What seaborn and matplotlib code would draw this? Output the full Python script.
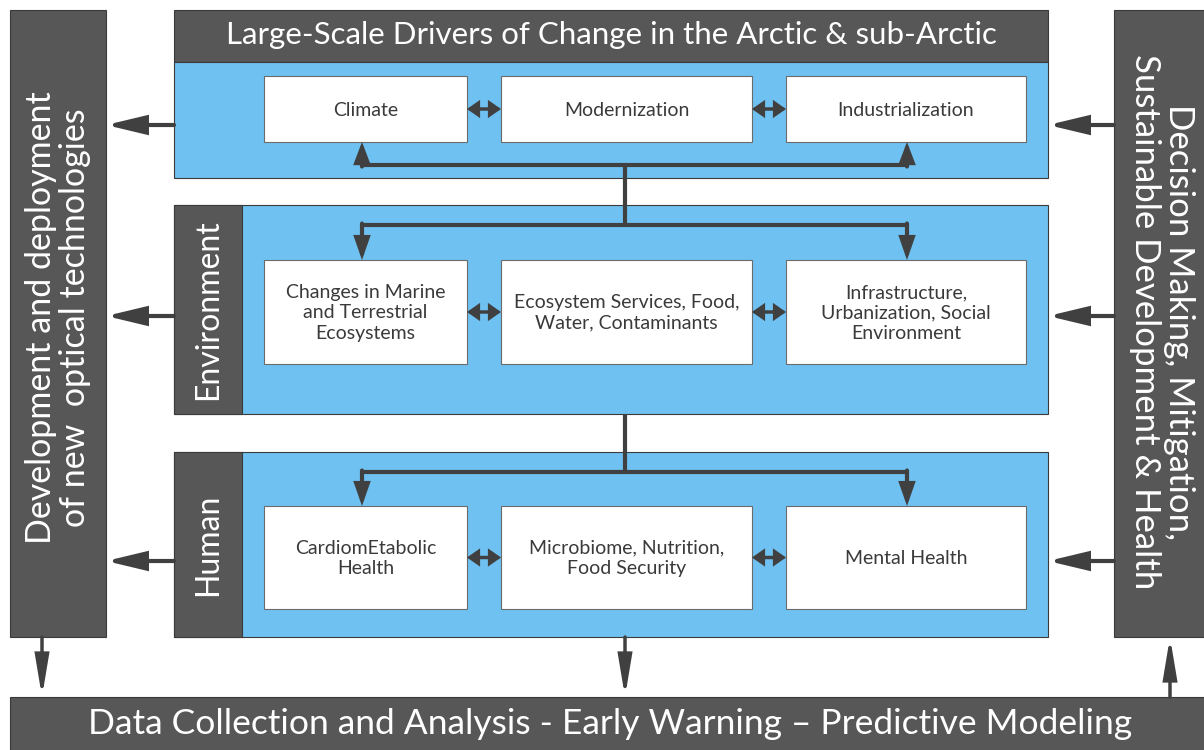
import matplotlib.pyplot as plt
import seaborn as sns
from matplotlib.patches import Rectangle, FancyArrowPatch

sns.set_theme(style="white")
plt.rcParams['font.family'] = ['Lato', 'DejaVu Sans']

DARK = '#575757'
BLUE = '#6FC1F1'
INK = '#404040'
TEXT = '#3a3a3a'

header_title = "Large-Scale Drivers of Change in the Arctic & sub-Arctic"
layer_titles = ["Environment", "Human"]
driver_boxes = ["Climate", "Modernization", "Industrialization"]
env_boxes = ["Changes in Marine\nand Terrestrial\nEcosystems",
             "Ecosystem Services, Food,\nWater, Contaminants",
             "Infrastructure,\nUrbanization, Social\nEnvironment"]
human_boxes = ["CardiomEtabolic\nHealth",
               "Microbiome, Nutrition,\nFood Security",
               "Mental Health"]
left_label = "Development and deployment\nof new  optical technologies"
right_label = "Decision Making, Mitigation,\nSustainable Development & Health"
bottom_label = "Data Collection and Analysis - Early Warning \u2013 Predictive Modeling"

fig = plt.figure(figsize=(12.04, 7.5), dpi=100)
ax = fig.add_axes([0, 0, 1, 1])
ax.set_xlim(0, 1204)
ax.set_ylim(750, 0)
ax.axis('off')


def rect(x0, y0, x1, y1, fc, ec='#3a3a3a', lw=0.8, z=1):
    ax.add_patch(Rectangle((x0, y0), x1 - x0, y1 - y0, facecolor=fc,
                           edgecolor=ec, linewidth=lw, zorder=z))


def arrow(p0, p1, style='-|>', hl=2.3, hw=0.55, lw=3.0):
    a = FancyArrowPatch(p0, p1, arrowstyle=f'{style},head_length={hl},head_width={hw}',
                        mutation_scale=10, linewidth=lw, color=INK,
                        shrinkA=0, shrinkB=0, zorder=5, joinstyle='miter')
    ax.add_patch(a)


def line(xs, ys, lw=3.0):
    ax.plot(xs, ys, color=INK, lw=lw, solid_joinstyle='miter',
            solid_capstyle='butt', zorder=4)


# side and bottom bars
rect(10, 10, 106, 637, DARK)
ax.text(58, 318, left_label, rotation=90, ha='center', va='center',
        color='white', fontsize=24.5, linespacing=1.1)
rect(1114, 10, 1206, 637, DARK)
ax.text(1162, 322, right_label, rotation=-90, ha='center', va='center',
        color='white', fontsize=25, linespacing=1.05)
rect(10, 697, 1206, 752, DARK)
ax.text(610, 724, bottom_label, ha='center', va='center',
        color='white', fontsize=25.5)

# top panel
rect(174, 10, 1048, 62, DARK)
ax.text(611, 35, header_title, ha='center', va='center', color='white', fontsize=22.5)
rect(174, 62, 1048, 178, BLUE)

# environment and human panels
panels = [(205, 414), (452, 637)]
for (y0, y1), title in zip(panels, layer_titles):
    rect(174, y0, 1048, y1, BLUE)
    rect(174, y0, 242, y1, DARK)
    ax.text(208, (y0 + y1) / 2, title, rotation=90, ha='center', va='center',
            color='white', fontsize=23)

box_x = [(264, 467), (501, 752), (786, 1026)]
rows = [(76, 142, driver_boxes), (260, 364, env_boxes), (506, 609, human_boxes)]
for y0, y1, labels in rows:
    for (x0, x1), lab in zip(box_x, labels):
        rect(x0, y0, x1, y1, 'white', ec='#6b6b6b', lw=0.8, z=2)
        ax.text((x0 + x1) / 2, (y0 + y1) / 2 + 1, lab, ha='center', va='center',
                color=TEXT, fontsize=14, linespacing=1.25, zorder=3)
    ym = (y0 + y1) / 2
    for i in range(2):
        arrow((box_x[i][1], ym), (box_x[i + 1][0], ym), style='<|-|>',
              hl=0.6, hw=0.42, lw=2.5)

# feedback inside top panel
line([362, 907], [165, 165])
arrow((362, 166.5), (362, 142), hl=1.1, hw=0.42, lw=3)
arrow((907, 166.5), (907, 142), hl=1.1, hw=0.42, lw=3)

# flow down to environment
line([625, 625], [165, 225])
line([362, 907], [225, 225])
arrow((362, 223.5), (362, 260), hl=1.2, hw=0.42, lw=3)
arrow((907, 223.5), (907, 260), hl=1.2, hw=0.42, lw=3)

# flow down to human
line([625, 625], [414, 472])
line([362, 907], [472, 472])
arrow((362, 470.5), (362, 506), hl=1.2, hw=0.42, lw=3)
arrow((907, 470.5), (907, 506), hl=1.2, hw=0.42, lw=3)

# panel <-> side bars
for y in [125, 316, 561]:
    arrow((174, y), (106, y))
    arrow((1114, y), (1048, y))

# bottom arrows
arrow((42, 637), (42, 697), hl=2.4, hw=0.4, lw=2.5)
arrow((625, 637), (625, 697), hl=2.4, hw=0.4, lw=2.5)
arrow((1170, 697), (1170, 637), hl=2.4, hw=0.4, lw=2.5)

fig.savefig('out.png', dpi=100)
